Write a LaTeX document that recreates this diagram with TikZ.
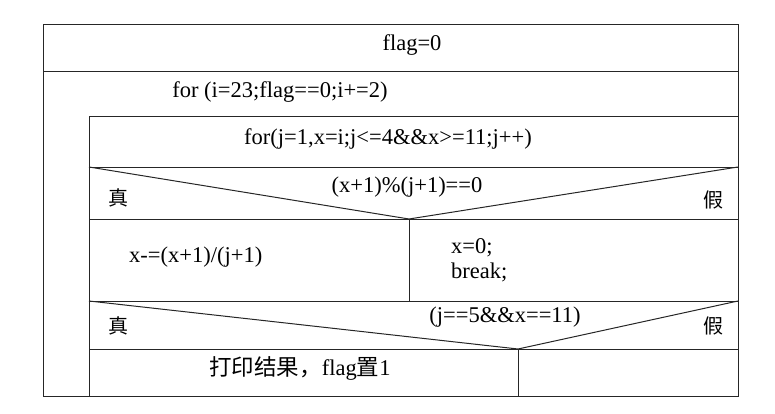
\documentclass[tikz,border=0pt]{standalone}
\usepackage{fontspec}
\setmainfont{Liberation Serif}
\newfontfamily\cjk{Noto Sans CJK SC}
\begin{document}
\begin{tikzpicture}[x=1pt,y=-1pt,
  frame/.style={line width=1pt, black!85},
  txt/.style={font=\fontsize{22.5}{25}\selectfont, inner sep=0pt, text height=0.72em, text depth=0.22em},
  cjktxt/.style={txt, font=\fontsize{20}{24}\selectfont\cjk}]
\useasboundingbox (0,0) rectangle (775,414);
% frame
\draw[frame] (43,25) rectangle (738,396);
\draw[frame] (43,72) -- (738,72);
\draw[frame] (89,117) rectangle (738,396);
\draw[frame] (89,167) -- (738,167);
\draw[frame] (89,167) -- (409,219) -- (738,167);
\draw[frame] (89,219) -- (738,219);
\draw[frame] (409,219) -- (409,301);
\draw[frame] (89,301) -- (738,301);
\draw[frame] (89,301) -- (518,349) -- (738,301);
\draw[frame] (89,349) -- (738,349);
\draw[frame] (518,349) -- (518,396);
% texts
\node[txt] (init) at (412,48) {flag=0};
\node[txt] (outerfor) at (280,95) {for (i=23;flag==0;i+=2)};
\node[txt] (innerfor) at (388,142) {for(j=1,x=i;j<=4\&\&x>=11;j++)};
\node[cjktxt] (t1) at (118,203) {真};
\node[txt] (c1) at (407,190) {(x+1)\%(j+1)==0};
\node[cjktxt] (f1) at (713,205) {假};
\node[txt, anchor=west] (s1) at (129,260) {x-=(x+1)/(j+1)};
\node[txt, anchor=west, align=left, text height=, text depth=] (s2) at (451,260) {x=0;\\break;};
\node[cjktxt] (t2) at (118,331) {真};
\node[txt] (c2) at (505,320) {(j==5\&\&x==11)};
\node[cjktxt] (f2) at (713,331) {假};
\node[txt] (s3) at (300,373) {{\cjk 打印结果，}flag{\cjk 置}1};
\end{tikzpicture}
\end{document}
